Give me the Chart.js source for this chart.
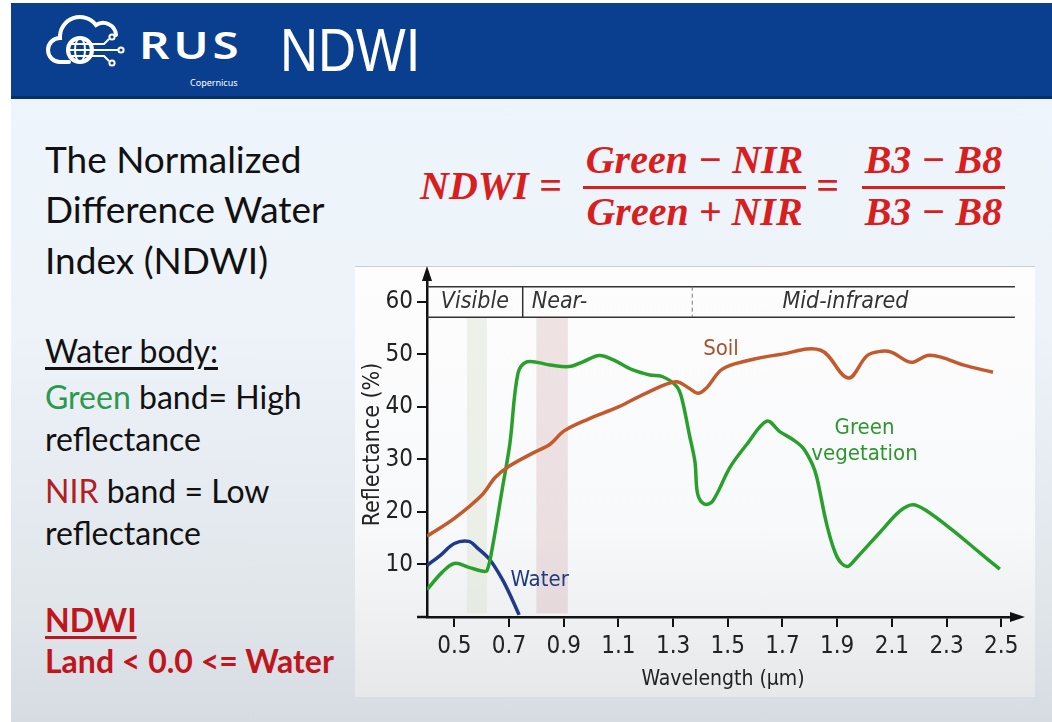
<!DOCTYPE html>
<html lang="en">
<head>
<meta charset="UTF-8">
<title>RUS NDWI</title>
<script src="https://cdn.jsdelivr.net/npm/chart.js"></script>
<style>
    body {
        margin: 0;
        width: 1052px;
        height: 722px;
        background: #fff;
        overflow: hidden;
        font-family: Lato, "Liberation Sans", sans-serif;
    }
    .slide {
        position: absolute; left: 11px; top: 3px; width: 1041px; height: 719px;
        background: linear-gradient(#eef5fc 0%, #edf3f9 45%, #e0e5ea 85%, #d6dce2 100%);
    }
    .header {
        position: absolute; left: 11px; top: 3px; width: 1041px; height: 93px;
        background: #0a3f8f; border-bottom: 3px solid #062f6c;
    }
    .rus {
        position: absolute; left: 139px; top: 18px; color: #fff;
        font-family: "Noto Sans", sans-serif; font-size: 38px; font-weight: 600; letter-spacing: 3px;
        transform: scaleX(1.25); transform-origin: left top;
    }
    .cop {
        position: absolute; left: 190px; top: 76px; color: #fff;
        font-family: "Noto Sans", sans-serif; font-size: 9px;
    }
    .title {
        position: absolute; left: 280px; top: 14px; color: #fff;
        font-family: "Liberation Sans", sans-serif; font-size: 62px;
        transform: scaleX(0.85); transform-origin: left top;
    }
    .txt { position: absolute; left: 45px; color: #111; white-space: nowrap; line-height: 1; }
    .big { font-size: 37px; }
    .mid { font-size: 32px; }
    .u { text-decoration: underline; text-underline-offset: 4px; }
    .red { color: #c0151d; font-weight: bold; }
    .formula {
        position: absolute; color: #d81f1f; white-space: nowrap;
        font-family: "Liberation Serif", serif; font-style: italic; font-weight: bold;
        font-size: 40px; line-height: 1;
    }
    .bar { position: absolute; height: 3px; background: #d81f1f; }
    .panel {
        position: absolute; left: 355px; top: 266px; width: 680px; height: 430px;
        background: linear-gradient(#fdfdfe 0%, #f8f9fa 60%, #e6e8ea 100%);
        border-top: 1px solid #c9ccd0;
    }
    .chart-box { position: absolute; left: 355px; top: 266px; width: 680px; height: 430px; }
</style>
</head>
<body>

<div class="slide"></div>
<div class="header"></div>
<svg width="110" height="80" viewBox="0 0 110 80" style="position:absolute;left:38px;top:5px">
    <g fill="none" stroke="#fff" stroke-width="4" stroke-linecap="round">
        <path d="M31 57 H22 A12 12 0 0 1 22 33 A20 20 0 0 1 58 20 A13 13 0 0 1 78 30"/>
        <circle cx="42" cy="45" r="12"/>
    </g>
    <g fill="none" stroke="#fff" stroke-width="2">
        <ellipse cx="42" cy="45" rx="5" ry="12"/>
        <path d="M30 45 H54 M32 39 H52 M32 51 H52"/>
        <path d="M54 39 H66 L71 34 M55 45 H80 M54 51 H66 L71 56"/>
        <circle cx="74" cy="32" r="2.6"/>
        <circle cx="83" cy="45" r="2.6"/>
        <circle cx="74" cy="58" r="2.6"/>
    </g>
</svg>
<div class="rus">RUS</div>
<div class="cop">Copernicus</div>
<div class="title">NDWI</div>

<div class="txt big" style="top:140px">The Normalized</div>
<div class="txt big" style="top:190px">Difference Water</div>
<div class="txt big" style="top:241px">Index (NDWI)</div>

<div class="txt mid u" style="top:335px">Water body:</div>
<div class="txt mid" style="top:381px"><span style="color:#2c9a4e">Green</span> band= High</div>
<div class="txt mid" style="top:423px">reflectance</div>
<div class="txt mid" style="top:475px"><span style="color:#b01f24">NIR</span> band = Low</div>
<div class="txt mid" style="top:517px">reflectance</div>
<div class="txt mid red u" style="top:604px">NDWI</div>
<div class="txt mid red" style="top:645px">Land &lt; 0.0 &lt;= Water</div>

<div class="formula" style="left:420px;top:166px">NDWI =</div>
<div class="formula" style="left:583px;width:223px;text-align:center;top:140px">Green − NIR</div>
<div class="bar" style="left:583px;width:223px;top:186px"></div>
<div class="formula" style="left:583px;width:223px;text-align:center;top:192px">Green + NIR</div>
<div class="formula" style="left:816px;top:166px">=</div>
<div class="formula" style="left:862px;width:143px;text-align:center;top:140px">B3 − B8</div>
<div class="bar" style="left:862px;width:143px;top:186px"></div>
<div class="formula" style="left:862px;width:143px;text-align:center;top:192px">B3 − B8</div>

<div class="panel"></div>
<div class="chart-box"><canvas id="spectra"></canvas></div>

<script>
    // axis ticks
    const wavelengthTicks = [0.5, 0.7, 0.9, 1.1, 1.3, 1.5, 1.7, 1.9, 2.1, 2.3, 2.5];
    const reflectanceTicks = [10, 20, 30, 40, 50, 60];

    // spectral curves (wavelength in µm, reflectance in %)
    const soilWavelength = [0.40, 0.50, 0.60, 0.65, 0.70, 0.79, 0.85, 0.90, 0.99, 1.10, 1.20, 1.31, 1.36, 1.39, 1.42, 1.48, 1.57, 1.69, 1.84, 1.94, 2.01, 2.06, 2.10, 2.17, 2.23, 2.28, 2.36, 2.47];
    const soilReflectance = [15.4, 18.8, 23.2, 26.6, 28.7, 31.3, 32.9, 35.4, 37.7, 40.0, 42.6, 44.8, 43.5, 42.6, 43.5, 47.2, 48.8, 50.0, 50.8, 45.5, 49.8, 50.6, 50.4, 48.5, 49.8, 49.5, 48.0, 46.6];

    const vegWavelength = [0.40, 0.455, 0.50, 0.556, 0.605, 0.62, 0.64, 0.674, 0.703, 0.733, 0.766, 0.85, 0.92, 0.97, 1.03, 1.08, 1.15, 1.215, 1.26, 1.31, 1.33, 1.36, 1.38, 1.39, 1.415, 1.445, 1.508, 1.57, 1.643, 1.69, 1.738, 1.775, 1.81, 1.826, 1.863, 1.90, 1.936, 1.97, 2.056, 2.13, 2.177, 2.228, 2.323, 2.42, 2.495];
    const vegReflectance = [5.2, 8.5, 10.2, 9.4, 8.7, 8.9, 13.5, 24.0, 33.0, 46.5, 48.6, 48.0, 47.7, 48.6, 49.8, 49.0, 47.1, 46.1, 45.8, 44.1, 42.0, 34.6, 29.5, 23.4, 21.5, 22.1, 28.5, 32.9, 37.3, 35.3, 33.8, 32.2, 29.0, 26.5, 17.4, 11.4, 9.6, 11.2, 16.1, 20.2, 21.4, 20.2, 16.5, 12.3, 9.1];

    const waterWavelength = [0.40, 0.45, 0.50, 0.553, 0.583, 0.63, 0.676, 0.712, 0.737];
    const waterReflectance = [9.8, 11.8, 14.0, 14.4, 13.2, 10.9, 7.1, 3.3, 0.4];

    // spectral regions and sensor bands
    const regionNames = ['Visible', 'Near-', 'Mid-infrared'];
    const regionEdges = [0.4, 0.75, 1.37, 2.55];
    const bandRanges = [[0.546, 0.619], [0.80, 0.915]];

    const narrow = '"DejaVu Sans Condensed", "Liberation Sans", Arial, sans-serif';

    function toPoints(xs, ys) {
        return xs.map((v, i) => ({ x: v, y: ys[i] }));
    }

    const decor = {
        id: 'decor',
        beforeDatasetsDraw(chart) {
            const { ctx, scales: { x, y } } = chart;
            const fills = ['rgba(214,224,204,0.4)', 'rgba(200,150,155,0.26)'];
            ctx.save();
            bandRanges.forEach((b, i) => {
                const x0 = x.getPixelForValue(b[0]);
                const x1 = x.getPixelForValue(b[1]);
                const y0 = y.getPixelForValue(57.1);
                const y1 = y.getPixelForValue(0.7);
                ctx.fillStyle = fills[i];
                ctx.fillRect(x0, y0, x1 - x0, y1 - y0);
            });
            ctx.restore();
        },
        afterDatasetsDraw(chart) {
            const { ctx, chartArea, scales: { x, y } } = chart;
            ctx.save();
            // region strip
            const top = y.getPixelForValue(62.9);
            const bot = y.getPixelForValue(57.1);
            const xl = x.getPixelForValue(regionEdges[0]);
            const xr = x.getPixelForValue(regionEdges[3]);
            ctx.strokeStyle = '#333';
            ctx.lineWidth = 1.5;
            ctx.beginPath();
            ctx.moveTo(xl, top); ctx.lineTo(xr, top);
            ctx.moveTo(xl, bot); ctx.lineTo(xr, bot);
            const xs = x.getPixelForValue(regionEdges[1]);
            ctx.moveTo(xs, top); ctx.lineTo(xs, bot);
            ctx.stroke();
            ctx.setLineDash([4, 3]);
            ctx.lineWidth = 1;
            ctx.strokeStyle = '#777';
            const xd = x.getPixelForValue(regionEdges[2]);
            ctx.beginPath();
            ctx.moveTo(xd, top); ctx.lineTo(xd, bot);
            ctx.stroke();
            ctx.setLineDash([]);

            ctx.fillStyle = '#333';
            ctx.font = 'italic 23px ' + narrow;
            ctx.textBaseline = 'middle';
            const ym = (top + bot) / 2;
            ctx.textAlign = 'center';
            ctx.fillText(regionNames[0], (xl + xs) / 2, ym);
            ctx.textAlign = 'left';
            ctx.fillText(regionNames[1], xs + 9, ym);
            ctx.textAlign = 'center';
            ctx.fillText(regionNames[2], x.getPixelForValue(1.93), ym);

            // curve labels
            ctx.font = '22px ' + narrow;
            ctx.textAlign = 'left';
            ctx.fillStyle = '#a4522c';
            ctx.fillText('Soil', x.getPixelForValue(1.41), y.getPixelForValue(51));
            ctx.fillStyle = '#2f962f';
            ctx.textAlign = 'center';
            ctx.fillText('Green', x.getPixelForValue(2.0), y.getPixelForValue(36));
            ctx.fillText('vegetation', x.getPixelForValue(2.0), y.getPixelForValue(30.9));
            ctx.fillStyle = '#1f3a7d';
            ctx.textAlign = 'left';
            ctx.fillText('Water', x.getPixelForValue(0.705), y.getPixelForValue(7));

            // axis arrows
            ctx.fillStyle = '#111';
            ctx.strokeStyle = '#111';
            ctx.lineWidth = 2.5;
            ctx.beginPath();
            ctx.moveTo(chartArea.left - 10, chartArea.bottom);
            ctx.lineTo(chartArea.left, chartArea.bottom);
            ctx.stroke();
            ctx.beginPath();
            ctx.moveTo(chartArea.left, chartArea.top - 6);
            ctx.lineTo(chartArea.left - 5, chartArea.top + 9);
            ctx.lineTo(chartArea.left + 5, chartArea.top + 9);
            ctx.closePath();
            ctx.fill();
            ctx.beginPath();
            ctx.moveTo(chartArea.right + 6, chartArea.bottom);
            ctx.lineTo(chartArea.right - 9, chartArea.bottom - 5);
            ctx.lineTo(chartArea.right - 9, chartArea.bottom + 5);
            ctx.closePath();
            ctx.fill();
            ctx.restore();
        }
    };

    const tickFont = { family: narrow, size: 24 };

    new Chart(document.getElementById('spectra'), {
        type: 'line',
        data: {
            datasets: [
                {
                    label: 'Soil',
                    data: toPoints(soilWavelength, soilReflectance),
                    borderColor: '#c35a2c',
                    borderWidth: 3.5
                },
                {
                    label: 'Green vegetation',
                    data: toPoints(vegWavelength, vegReflectance),
                    borderColor: '#2aa02c',
                    borderWidth: 3.5
                },
                {
                    label: 'Water',
                    data: toPoints(waterWavelength, waterReflectance),
                    borderColor: '#1d3a8c',
                    borderWidth: 3.5
                }
            ]
        },
        options: {
            responsive: true,
            maintainAspectRatio: false,
            animation: false,
            elements: { point: { radius: 0 }, line: { tension: 0.35 } },
            layout: { padding: { top: 6, right: 16, left: 0, bottom: 0 } },
            plugins: { legend: { display: false }, tooltip: { enabled: false } },
            scales: {
                x: {
                    type: 'linear',
                    min: 0.4,
                    max: 2.565,
                    afterBuildTicks: s => { s.ticks = wavelengthTicks.map(v => ({ value: v })); },
                    afterFit: s => { s.height = 79; s.paddingLeft = 0; s.paddingRight = 0; },
                    ticks: {
                        autoSkip: false, maxRotation: 0, padding: 5,
                        color: '#222', font: tickFont,
                        callback: v => Number(v).toFixed(1)
                    },
                    grid: { drawOnChartArea: false, drawTicks: true, tickLength: 10, color: '#111', lineWidth: 2 },
                    border: { display: true, color: '#111', width: 2.5 },
                    title: { display: true, text: 'Wavelength (µm)', color: '#222', font: { family: narrow, size: 21 }, padding: { top: 0, bottom: 4 } }
                },
                y: {
                    type: 'linear',
                    min: 0,
                    max: 65.7,
                    afterBuildTicks: s => { s.ticks = reflectanceTicks.map(v => ({ value: v })); },
                    afterFit: s => { s.width = 72; s.paddingTop = 0; s.paddingBottom = 0; },
                    ticks: { autoSkip: false, padding: 4, color: '#222', font: tickFont },
                    grid: { drawOnChartArea: false, drawTicks: true, tickLength: 10, color: '#111', lineWidth: 2 },
                    border: { display: true, color: '#111', width: 2.5 },
                    title: { display: true, text: 'Reflectance (%)', color: '#222', font: { family: narrow, size: 23 }, padding: { top: 4, bottom: 0 } }
                }
            }
        },
        plugins: [decor]
    });
</script>

</body>
</html>
